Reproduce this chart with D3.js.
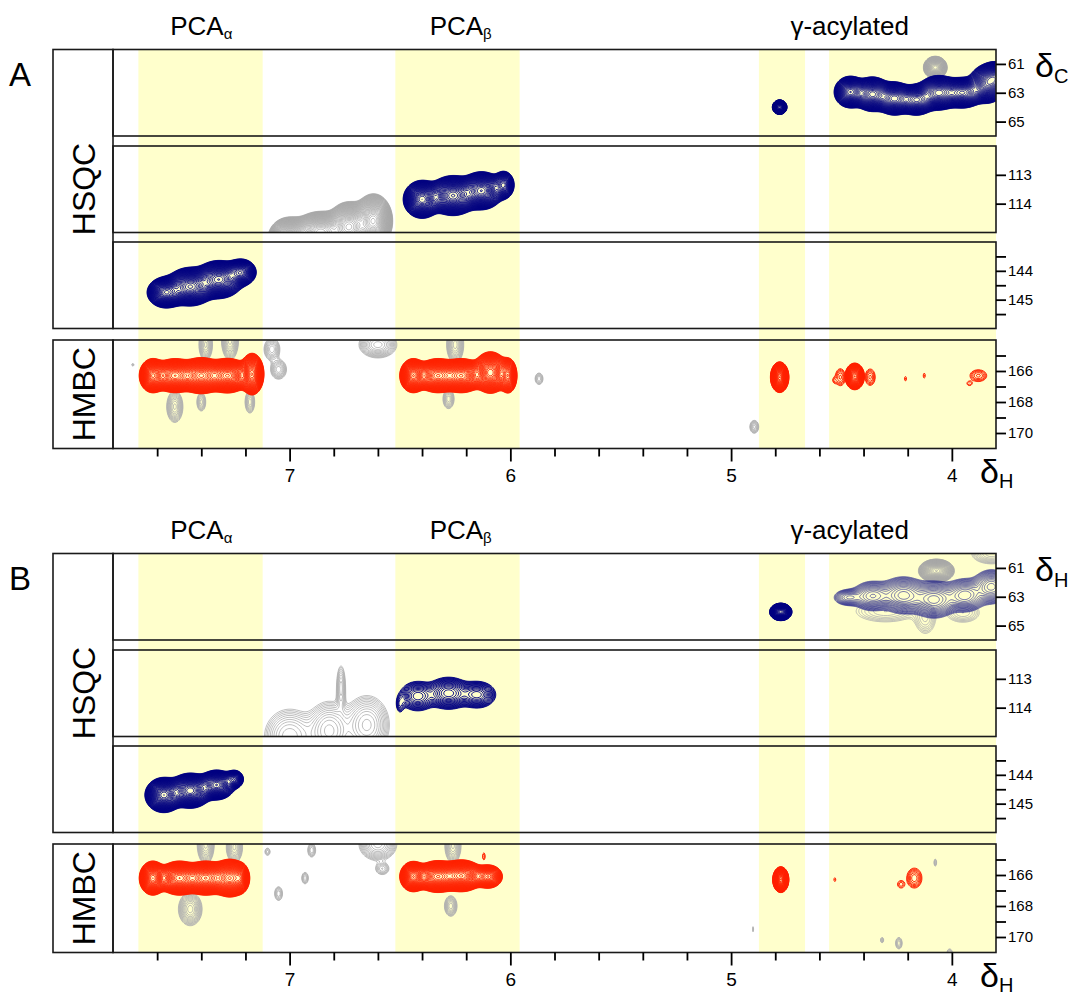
<!DOCTYPE html>
<html>
<head>
<meta charset="utf-8">
<script src="https://cdn.jsdelivr.net/npm/d3@7"></script>
<style>
body { margin: 0; background: #fff; }
text { font-family: Arial, "Liberation Sans", sans-serif; fill: #000; }
</style>
</head>
<body>
<div id="chart"></div>
<script>
// proton axis
var xDomain = [7.8, 3.8];
var xMajor = [7, 6, 5, 4];
var xMinor = [7.6, 7.4, 7.2, 6.8, 6.6, 6.4, 6.2, 5.8, 5.6, 5.4, 5.2, 4.8, 4.6, 4.4, 4.2];

// shaded regions (ppm) and the headings over them
var bands = [[7.685, 7.122], [6.521, 5.958], [4.874, 4.665], [4.556, 3.8]];
var headings = [["PCA", "α", 7.40], ["PCA", "β", 6.225], ["γ-acylated", "", 4.463]];

// carbon axes of the four rows
var c1Domain = [60, 66],   c1Ticks = [61, 63, 65],    c1Minor = [];
var c2Domain = [112, 115], c2Ticks = [113, 114],      c2Minor = [];
var c3Domain = [143, 146], c3Ticks = [144, 145],      c3Minor = [143.5, 144.5, 145.5];
var hmDomain = [164, 171], hmTicks = [166, 168, 170], hmMinor = [165, 167, 169];

// cross peaks: [dH, dC, widthH, widthC, height]
var aC1Navy = [[4.78, 64.0, 0.013, 0.2, 25], [4.46, 62.95, 0.03, 0.45, 20], [4.36, 63.1, 0.035, 0.5, 18],
  [4.26, 63.4, 0.035, 0.48, 18], [4.16, 63.5, 0.035, 0.45, 16], [4.06, 63.0, 0.04, 0.5, 18],
  [3.95, 63.0, 0.04, 0.45, 16], [3.84, 62.4, 0.035, 0.55, 18], [3.8, 61.9, 0.03, 0.45, 14]];
var aC1Gray = [[4.075, 61.25, 0.022, 0.32, 20]];
var aC2Navy = [[6.40, 113.85, 0.035, 0.27, 20], [6.26, 113.72, 0.045, 0.28, 22], [6.13, 113.55, 0.04, 0.27, 20],
  [6.03, 113.35, 0.022, 0.22, 10]];
var aC2Gray = [[7.0, 115.2, 0.04, 0.3, 20], [6.86, 115.0, 0.05, 0.3, 20], [6.73, 114.8, 0.04, 0.35, 22],
  [6.62, 114.6, 0.035, 0.38, 22]];
var aC3Navy = [[7.56, 144.75, 0.035, 0.22, 20], [7.45, 144.55, 0.045, 0.27, 22], [7.32, 144.3, 0.045, 0.27, 20],
  [7.22, 144.05, 0.03, 0.2, 14]];
var aHmRed = [[7.62, 166.3, 0.025, 0.45, 20], [7.52, 166.3, 0.04, 0.45, 20], [7.40, 166.3, 0.04, 0.47, 22],
  [7.28, 166.3, 0.04, 0.45, 22], [7.17, 166.2, 0.022, 0.55, 20], [6.44, 166.3, 0.025, 0.45, 20],
  [6.33, 166.3, 0.04, 0.45, 20], [6.22, 166.3, 0.04, 0.45, 20], [6.09, 166.1, 0.032, 0.55, 20],
  [6.01, 166.3, 0.018, 0.5, 12], [4.78, 166.4, 0.016, 0.38, 30], [4.44, 166.35, 0.019, 0.37, 15]];
var aHmRedSmall = [[4.505, 166.4, 0.012, 0.29, 6], [4.53, 166.6, 0.008, 0.15, 2], [4.37, 166.4, 0.012, 0.28, 6],
  [4.21, 166.5, 0.005, 0.15, 1.6], [4.125, 166.3, 0.005, 0.17, 1.6], [3.88, 166.3, 0.02, 0.2, 6],
  [3.92, 166.8, 0.01, 0.12, 2]];
var aHmGray = [[7.38, 164.3, 0.015, 0.5, 8], [7.27, 164.0, 0.018, 0.6, 10], [7.52, 168.3, 0.018, 0.5, 8],
  [7.40, 168.0, 0.012, 0.35, 4], [7.18, 168.0, 0.012, 0.4, 5], [7.08, 164.6, 0.02, 0.4, 5],
  [7.05, 165.9, 0.02, 0.35, 5], [6.6, 164.3, 0.04, 0.4, 10], [6.25, 164.3, 0.018, 0.55, 10],
  [6.28, 167.8, 0.014, 0.35, 5], [7.71, 165.6, 0.006, 0.1, 1.5], [5.87, 166.5, 0.012, 0.25, 3],
  [4.895, 169.6, 0.012, 0.25, 4]];

var bC1Navy = [[4.775, 64.05, 0.02, 0.24, 25]];
var bC1NavyLight = [[4.47, 63.05, 0.035, 0.3, 5], [4.36, 62.95, 0.045, 0.5, 8], [4.22, 62.9, 0.05, 0.6, 10],
  [4.08, 63.2, 0.05, 0.6, 10], [3.94, 62.9, 0.045, 0.55, 9], [3.82, 62.3, 0.04, 0.55, 10]];
var bC1Gray = [[4.07, 61.2, 0.035, 0.35, 15]];
var bC1GrayThin = [[4.3, 64.0, 0.09, 0.5, 3], [4.12, 64.5, 0.03, 0.7, 3], [3.95, 64.1, 0.05, 0.45, 3],
  [3.82, 60.0, 0.05, 0.4, 5]];
var bC2Navy = [[6.42, 113.6, 0.04, 0.25, 8], [6.28, 113.5, 0.045, 0.25, 12], [6.15, 113.55, 0.04, 0.22, 9],
  [6.5, 113.9, 0.012, 0.2, 2]];
var bC2Gray = [[6.767, 113.3, 0.012, 0.45, 4], [7.0, 115.0, 0.06, 0.5, 6], [6.82, 114.8, 0.05, 0.5, 8],
  [6.65, 114.6, 0.05, 0.5, 8]];
var bC3Navy = [[7.57, 144.7, 0.035, 0.25, 20], [7.45, 144.55, 0.04, 0.25, 20], [7.33, 144.35, 0.035, 0.22, 16],
  [7.25, 144.15, 0.02, 0.15, 8]];
var bHmRed = [[7.62, 166.2, 0.025, 0.45, 20], [7.5, 166.2, 0.04, 0.45, 20], [7.38, 166.2, 0.04, 0.45, 20],
  [7.27, 166.2, 0.035, 0.5, 20], [7.22, 166.2, 0.015, 0.4, 8], [6.44, 166.1, 0.025, 0.4, 20],
  [6.33, 166.1, 0.04, 0.42, 20], [6.22, 166.05, 0.04, 0.42, 20], [6.1, 166.1, 0.03, 0.35, 10],
  [4.775, 166.3, 0.014, 0.32, 30]];
var bHmRedSmall = [[4.53, 166.3, 0.005, 0.15, 1.5], [4.17, 166.2, 0.016, 0.3, 10], [4.23, 166.6, 0.012, 0.18, 2.5],
  [6.12, 164.8, 0.005, 0.2, 2]];
var bHmGray = [[7.38, 164.0, 0.018, 0.6, 10], [7.25, 164.2, 0.018, 0.5, 8], [7.45, 168.2, 0.025, 0.5, 10],
  [7.1, 164.5, 0.01, 0.2, 2], [7.05, 167.2, 0.012, 0.3, 3], [6.9, 164.4, 0.012, 0.3, 3],
  [6.93, 166.2, 0.01, 0.25, 3], [6.58, 165.6, 0.02, 0.25, 3], [6.6, 164.0, 0.04, 0.5, 10],
  [6.26, 164.1, 0.018, 0.55, 8], [6.27, 168.0, 0.015, 0.35, 6], [4.9, 169.5, 0.003, 0.2, 1.5],
  [4.316, 170.2, 0.006, 0.15, 2], [4.24, 170.4, 0.01, 0.25, 3], [4.075, 165.2, 0.005, 0.2, 2],
  [4.01, 171.0, 0.01, 0.2, 2]];

// contour looks
var styles = {
  navy:      {color: "#000080", factor: 1.08, width: 0.8, opacity: 1},
  navyLight: {color: "#1c1c8a", factor: 1.16, width: 0.8, opacity: 0.72},
  navyMid:   {color: "#000080", factor: 1.15, width: 0.9, opacity: 1},
  gray:      {color: "#a6a6a6", factor: 1.08, width: 0.7, opacity: 1},
  grayThin:  {color: "#b0b0b0", factor: 1.2,  width: 0.8, opacity: 1},
  red:       {color: "#ff2200", factor: 1.08, width: 0.8, opacity: 1},
  redSmall:  {color: "#ff2200", factor: 1.4,  width: 0.9, opacity: 1}
};

var rows = [
  {dom: c1Domain, ticks: c1Ticks, minor: c1Minor, top: 0,     h: 86.5},
  {dom: c2Domain, ticks: c2Ticks, minor: c2Minor, top: 96.5,  h: 86.5},
  {dom: c3Domain, ticks: c3Ticks, minor: c3Minor, top: 192.5, h: 86.5},
  {dom: hmDomain, ticks: hmTicks, minor: hmMinor, top: 290.5, h: 108.5}
];

var blocks = [
  {letter: "A", top: 49.5, side: "C", layers: [
    [0, aC1Gray, "gray"], [0, aC1Navy, "navy"],
    [1, aC2Gray, "gray"], [1, aC2Navy, "navy"],
    [2, aC3Navy, "navy"],
    [3, aHmGray, "grayThin"], [3, aHmRed, "red"], [3, aHmRedSmall, "redSmall"]]},
  {letter: "B", top: 553.5, side: "H", layers: [
    [0, bC1GrayThin, "grayThin"], [0, bC1Gray, "gray"], [0, bC1NavyLight, "navyLight"], [0, bC1Navy, "navy"],
    [1, bC2Gray, "grayThin"], [1, bC2Navy, "navyMid"],
    [2, bC3Navy, "navy"],
    [3, bHmGray, "grayThin"], [3, bHmRed, "red"], [3, bHmRedSmall, "redSmall"]]}
];

var W = 1072, H = 996;
var frameLeft = 53, plotLeft = 113, plotRight = 996;

var svg = d3.select("#chart").append("svg")
    .attr("width", W)
    .attr("height", H);

var x = d3.scaleLinear().domain(xDomain).range([plotLeft, plotRight]);

function drawContours(g, yS, peaks, st) {
  var x0 = plotLeft - 4, y0 = yS.range()[0] - 4;
  var nx = Math.ceil(plotRight - plotLeft) + 9, ny = Math.ceil(yS.range()[1] - yS.range()[0]) + 9;
  var vals = new Float64Array(nx * ny);
  peaks.forEach(function(p) {
    var gx = new Float64Array(nx), gy = new Float64Array(ny);
    for (var i = 0; i < nx; i++) {
      var u = (x.invert(x0 + i) - p[0]) / p[2];
      gx[i] = Math.exp(-0.5 * u * u);
    }
    for (var j = 0; j < ny; j++) {
      var v = (yS.invert(y0 + j) - p[1]) / p[3];
      gy[j] = p[4] * Math.exp(-0.5 * v * v);
    }
    for (var j2 = 0; j2 < ny; j2++) {
      if (gy[j2] < 1e-4) continue;
      for (var i2 = 0; i2 < nx; i2++) vals[j2 * nx + i2] += gx[i2] * gy[j2];
    }
  });
  var top = d3.max(vals), levels = [];
  for (var l = 1; l < top; l *= st.factor) levels.push(l);
  var cs = d3.contours().size([nx, ny]).thresholds(levels)(vals);
  g.append("g")
      .attr("transform", "translate(" + (x0 - 0.5) + "," + (y0 - 0.5) + ")")
    .selectAll("path")
    .data(cs)
    .enter().append("path")
      .attr("d", d3.geoPath())
      .attr("fill", "none")
      .attr("stroke", st.color)
      .attr("stroke-opacity", st.opacity)
      .attr("stroke-width", st.width);
}

blocks.forEach(function(b, bi) {
  var gb = svg.append("g");
  var bottom = b.top + rows[3].top + rows[3].h;

  // yellow regions
  gb.selectAll(".band")
    .data(bands)
    .enter().append("rect")
      .attr("x", function(d) { return x(d[0]); })
      .attr("width", function(d) { return x(d[1]) - x(d[0]); })
      .attr("y", b.top)
      .attr("height", bottom - b.top)
      .attr("fill", "#ffffcc");

  // headings
  gb.selectAll(".head")
    .data(headings)
    .enter().append("text")
      .attr("x", function(d) { return x(d[2]); })
      .attr("y", b.top - 15)
      .attr("text-anchor", "middle")
      .attr("font-size", 26)
      .each(function(d) {
        var t = d3.select(this);
        t.append("tspan").text(d[0]);
        if (d[1]) t.append("tspan").attr("font-size", 15).attr("dy", 4).text(d[1]);
      });

  gb.append("text")
      .attr("x", 9)
      .attr("y", b.top + 36)
      .attr("font-size", 33)
      .text(b.letter);

  var yScales = rows.map(function(r) {
    return d3.scaleLinear().domain(r.dom).range([b.top + r.top, b.top + r.top + r.h]);
  });

  // contour layers, clipped to their panel
  rows.forEach(function(r, ri) {
    var yS = yScales[ri];
    var id = "clip" + bi + "_" + ri;
    svg.append("clipPath").attr("id", id).append("rect")
        .attr("x", plotLeft).attr("y", yS.range()[0])
        .attr("width", plotRight - plotLeft).attr("height", r.h);
    var gp = gb.append("g").attr("clip-path", "url(#" + id + ")");
    b.layers.filter(function(l) { return l[0] === ri; }).forEach(function(l) {
      drawContours(gp, yS, l[1], styles[l[2]]);
    });
  });

  // frames
  rows.forEach(function(r, ri) {
    gb.append("rect")
        .attr("x", plotLeft).attr("y", b.top + r.top)
        .attr("width", plotRight - plotLeft).attr("height", r.h)
        .attr("fill", "none").attr("stroke", "#1a1a1a").attr("stroke-width", 1.6);
  });
  gb.append("rect")
      .attr("x", frameLeft).attr("y", b.top)
      .attr("width", plotLeft - frameLeft).attr("height", rows[2].top + rows[2].h)
      .attr("fill", "none").attr("stroke", "#1a1a1a").attr("stroke-width", 1.6);
  gb.append("rect")
      .attr("x", frameLeft).attr("y", b.top + rows[3].top)
      .attr("width", plotLeft - frameLeft).attr("height", rows[3].h)
      .attr("fill", "none").attr("stroke", "#1a1a1a").attr("stroke-width", 1.6);

  var midX = (frameLeft + plotLeft) / 2 + 12;
  gb.append("text")
      .attr("transform", "translate(" + midX + "," + (b.top + (rows[2].top + rows[2].h) / 2) + ") rotate(-90)")
      .attr("text-anchor", "middle")
      .attr("font-size", 32)
      .text("HSQC");
  gb.append("text")
      .attr("transform", "translate(" + midX + "," + (b.top + rows[3].top + rows[3].h / 2) + ") rotate(-90)")
      .attr("text-anchor", "middle")
      .attr("font-size", 32)
      .text("HMBC");

  // right carbon axes
  rows.forEach(function(r, ri) {
    var ga = gb.append("g").attr("transform", "translate(" + plotRight + ",0)");
    ga.call(d3.axisRight(yScales[ri]).tickValues(r.ticks).tickSize(10).tickPadding(2).tickFormat(d3.format("d")));
    if (r.minor.length) {
      ga.append("g").call(d3.axisRight(yScales[ri]).tickValues(r.minor).tickSize(10).tickFormat(""));
    }
    ga.selectAll(".domain").remove();
    ga.selectAll("line").attr("stroke", "#000").attr("stroke-width", 1.8);
    ga.selectAll("text").attr("font-size", 15).attr("font-family", "Arial, 'Liberation Sans', sans-serif");
  });

  // bottom proton axis
  var gx = gb.append("g").attr("transform", "translate(0," + bottom + ")");
  gx.call(d3.axisBottom(x).tickValues(xMajor).tickSize(13).tickPadding(7).tickFormat(d3.format("d")));
  gx.append("g").call(d3.axisBottom(x).tickValues(xMinor).tickSize(8).tickFormat(""));
  gx.selectAll(".domain").remove();
  gx.selectAll("line").attr("stroke", "#000").attr("stroke-width", 1.8);
  gx.selectAll("text").attr("font-size", 19).attr("font-family", "Arial, 'Liberation Sans', sans-serif");

  // axis symbols
  var side = gb.append("text").attr("x", 1035).attr("y", b.top + 27).attr("font-size", 34);
  side.append("tspan").text("δ");
  side.append("tspan").attr("font-size", 20).attr("dy", 6).text(b.side);
  var bot = gb.append("text").attr("x", 980).attr("y", bottom + 34).attr("font-size", 34);
  bot.append("tspan").text("δ");
  bot.append("tspan").attr("font-size", 20).attr("dy", 5).text("H");
});
</script>
</body>
</html>
